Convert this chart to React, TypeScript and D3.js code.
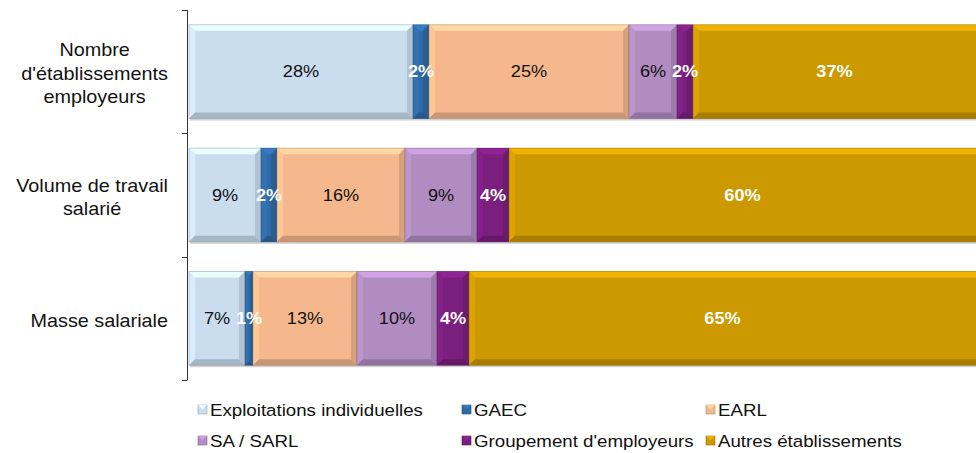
import React from 'react';
import * as d3 from 'd3';

const categories = ["Nombre d'établissements employeurs", 'Volume de travail salarié', 'Masse salariale'];
const categoryLines = [["Nombre", "d'établissements", "employeurs"], ['Volume de travail', 'salarié'], ['Masse salariale']];
const seriesNames = ['Exploitations individuelles', 'GAEC', 'EARL', 'SA / SARL', "Groupement d'employeurs", 'Autres établissements'];
const colors = ['#c9ddef', '#2f6aa6', '#f5b88c', '#b18cc1', '#7b1f7f', '#cc9900'];
const labelWhite = [false, true, false, false, true, true];

// percentages per category, in series order
const nombre = [28, 2, 25, 6, 2, 37];
const volume = [9, 2, 16, 9, 4, 60];
const masse = [7, 1, 13, 10, 4, 65];
const values = [nombre, volume, masse];

const W = 976;
const H = 453;
const FONT = '"Liberation Sans", Arial, sans-serif';
const SX = 1.1; // the text in the source is a bit wide
const CAT_SIZE = 18;

const x = d3.scaleLinear().domain([0, 100]).range([189, 989]);
const y = d3.scaleBand().domain(categories).range([10, 380]).paddingInner(0.24).paddingOuter(0.12);

function shade(c: string, k: number) {
  const col = d3.color(c)!;
  return k > 0 ? col.brighter(k).formatHex() : col.darker(-k).formatHex();
}

// category labels: lines centred in a block that is right-aligned to the axis
let ctx: CanvasRenderingContext2D | null = null;
function textWidth(s: string, size: number) {
  if (!ctx) ctx = document.createElement('canvas').getContext('2d');
  if (!ctx) return s.length * size * 0.5;
  ctx.font = `${size}px ${FONT}`;
  return ctx.measureText(s).width * SX;
}

const Segment = ({ x0, x1, y0, h, color }: { x0: number; x1: number; y0: number; h: number; color: string }) => {
  const w = x1 - x0;
  const b = Math.min(6, w / 2.5);
  const xr = x0 + w;
  const yb = y0 + h;
  return (
    <g>
      <rect x={x0 + 1} y={y0 + 2} width={w} height={h} fill="#000" opacity={0.18} />
      <rect x={x0} y={y0} width={w} height={h} fill={color} />
      <polygon points={`${x0},${y0} ${xr},${y0} ${xr - b},${y0 + b} ${x0 + b},${y0 + b}`} fill={shade(color, 0.45)} />
      <polygon points={`${x0},${y0} ${x0 + b},${y0 + b} ${x0 + b},${yb - b} ${x0},${yb}`} fill={shade(color, 0.2)} />
      <polygon points={`${xr},${y0} ${xr},${yb} ${xr - b},${yb - b} ${xr - b},${y0 + b}`} fill={shade(color, -0.35)} />
      <polygon points={`${x0},${yb} ${xr},${yb} ${xr - b},${yb - b} ${x0 + b},${yb - b}`} fill={shade(color, -0.55)} />
      <rect x={x0} y={y0} width={w} height={h} fill="none" stroke={shade(color, -1.2)} strokeOpacity={0.5} strokeWidth={0.8} />
    </g>
  );
};

export default function App() {
  const legendCols = [198, 462, 706];
  const legendRows = [410, 441];
  return (
    <div style={{ position: 'absolute', left: 0, top: 0 }}>
      <svg width={W} height={H} style={{ display: 'block', background: '#fff' }} fontFamily={FONT}>
        {categories.map((cat, ci) => {
          const y0 = y(cat)!;
          const h = y.bandwidth();
          const row = values[ci];
          let acc = 0;
          const segs = row.map((v, si) => {
            const s = { a: acc, b: acc + v, si, v };
            acc += v;
            return s;
          });
          const lines = categoryLines[ci];
          const blockW = d3.max(lines, (l) => textWidth(l, CAT_SIZE)) || 0;
          const cx = 168 - blockW / 2;
          return (
            <g key={cat}>
              {segs.map((s) => (
                <Segment key={s.si} x0={x(s.a)} x1={x(s.b)} y0={y0} h={h} color={colors[s.si]} />
              ))}
              {segs.map((s) => (
                <text
                  key={'t' + s.si}
                  transform={`translate(${(x(s.a) + Math.min(x(s.b), W)) / 2},${y0 + h / 2}) scale(${SX},1)`}
                  dy="0.35em"
                  textAnchor="middle"
                  fontSize={16.5}
                  fontWeight={labelWhite[s.si] ? 'bold' : 'normal'}
                  fill={labelWhite[s.si] ? '#fff' : '#111'}
                >
                  {s.v}%
                </text>
              ))}
              {lines.map((line, li) => (
                <text
                  key={'c' + li}
                  transform={`translate(${cx},${y0 + h / 2 + 2 + (li - (lines.length - 1) / 2) * 23.5}) scale(${SX},1)`}
                  dy="0.35em"
                  textAnchor="middle"
                  fontSize={CAT_SIZE}
                  fill="#111"
                >
                  {line}
                </text>
              ))}
            </g>
          );
        })}
        {/* category axis */}
        <line x1={187.5} x2={187.5} y1={10} y2={380} stroke="#333" />
        {[0, 1, 2, 3].map((i) => {
          const ty = Math.round(10 + (i * 370) / 3) + 0.5;
          return <line key={i} x1={182} x2={187.5} y1={ty} y2={ty} stroke="#333" />;
        })}
        {/* legend */}
        {seriesNames.map((name, i) => {
          const lx = legendCols[i % 3];
          const ly = legendRows[Math.floor(i / 3)];
          return (
            <g key={name}>
              <rect x={lx} y={ly - 5} width={9} height={9} fill={colors[i]} stroke={shade(colors[i], -0.8)} strokeWidth={0.6} />
              <polygon points={`${lx},${ly - 5} ${lx + 9},${ly - 5} ${lx + 4.5},${ly - 0.5}`} fill={shade(colors[i], 0.4)} />
              <text transform={`translate(${lx + 12},${ly}) scale(${SX},1)`} dy="0.35em" fontSize={17} fill="#111">
                {name}
              </text>
            </g>
          );
        })}
      </svg>
    </div>
  );
}
